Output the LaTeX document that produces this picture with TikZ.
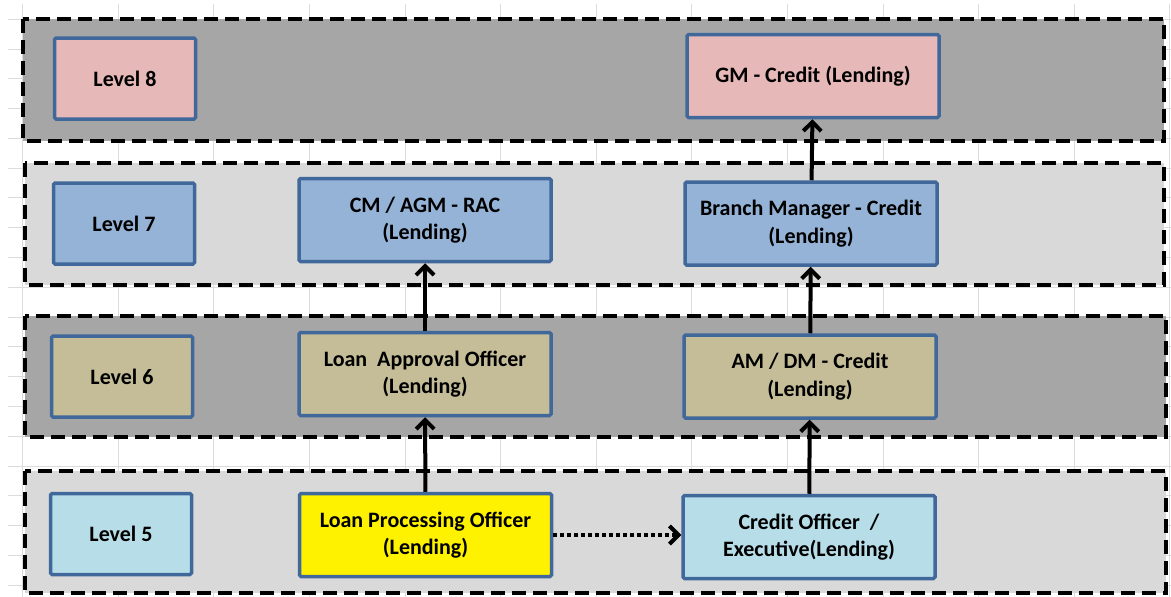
\documentclass[tikz,border=0pt]{standalone}
\usepackage{fontspec}
\setmainfont{Carlito}
\usepackage{xcolor}
\usepackage{tikz}
\usetikzlibrary{arrows.meta}

\definecolor{darkband}{HTML}{A6A6A6}
\definecolor{lightband}{HTML}{D9D9D9}
\definecolor{boxline}{HTML}{41689A}
\definecolor{pinkfill}{HTML}{E6B8B7}
\definecolor{bluefill}{HTML}{95B3D7}
\definecolor{tanfill}{HTML}{C4BD97}
\definecolor{cyanfill}{HTML}{B7DEE8}
\definecolor{gridline}{HTML}{DCDCDC}

\tikzset{
    band/.style={draw=black,line width=4.5pt,dash pattern=on 14pt off 7pt},
    lvlbox/.style={draw=boxline,line width=3.5pt,rounded corners=1.5pt,inner sep=0pt,
        minimum width=141pt,minimum height=81pt,align=center,
        font=\bfseries\fontsize{22}{27.5}\selectfont},
    rolebox/.style={lvlbox,minimum width=252pt,minimum height=83pt},
    upline/.style={line width=4pt,-{Straight Barb[length=9pt,width=18pt]}},
}

\begin{document}
\begin{tikzpicture}[x=1pt,y=-1pt]
            \useasboundingbox (0,0) rectangle (1171,597);

            %%% SHEET GRID %%%
            \foreach \k in {0,...,12}
                \draw[gridline,line width=1pt] ({22.7+95.6*\k},4)--({22.7+95.6*\k},597);
            \foreach \k in {0,...,19}
                \draw[gridline,line width=1pt] (8,{19.3+29.78*\k})--(1171,{19.3+29.78*\k});

            %%% BANDS %%%
            \filldraw[band,fill=darkband] (23,19) rectangle (1164,141);
            \filldraw[band,fill=lightband] (25,163) rectangle (1164,285);
            \filldraw[band,fill=darkband] (25,316) rectangle (1166,437);
            \filldraw[band,fill=lightband] (25,471) rectangle (1166,593);

            %%% LEVELS %%%
            \node[lvlbox,fill=pinkfill] (lvl8) at (125,78.5) {Level 8};
            \node[lvlbox,fill=bluefill] (lvl7) at (124,223.5) {Level 7};
            \node[lvlbox,fill=tanfill] (lvl6) at (122,376.5) {Level 6};
            \node[lvlbox,fill=cyanfill] (lvl5) at (121,534) {Level 5};

            %%% ROLES %%%
            \node[rolebox,fill=bluefill] (cm) at (425,220) {CM / AGM - RAC\\(Lending)};
            \node[rolebox,fill=tanfill] (lao) at (425,374) {Loan\ \ Approval Officer\\(Lending)};
            \node[rolebox,fill=yellow] (lpo) at (425.5,535) {Loan Processing Officer\\(Lending)};
            \node[rolebox,fill=pinkfill] (gm) at (813,76) {GM - Credit (Lending)};
            \node[rolebox,fill=bluefill] (bm) at (811,223.5) {Branch Manager - Credit\\(Lending)};
            \node[rolebox,fill=tanfill] (amdm) at (810,376.5) {AM / DM - Credit\\(Lending)};
            \node[rolebox,fill=cyanfill] (co) at (809,537) {Credit Officer\ \ /\\Executive(Lending)};

            %%% ARROWS %%%
            \draw[upline] (lpo)--(lao);
            \draw[upline] (lao)--(cm);
            \draw[upline] (co)--(amdm);
            \draw[upline] (amdm)--(bm);
            \draw[upline] (bm)--(gm);
            \draw[upline,dash pattern=on 3.5pt off 3.5pt] (lpo.east)--(lpo.east -| co.west);
        \end{tikzpicture}
\end{document}
